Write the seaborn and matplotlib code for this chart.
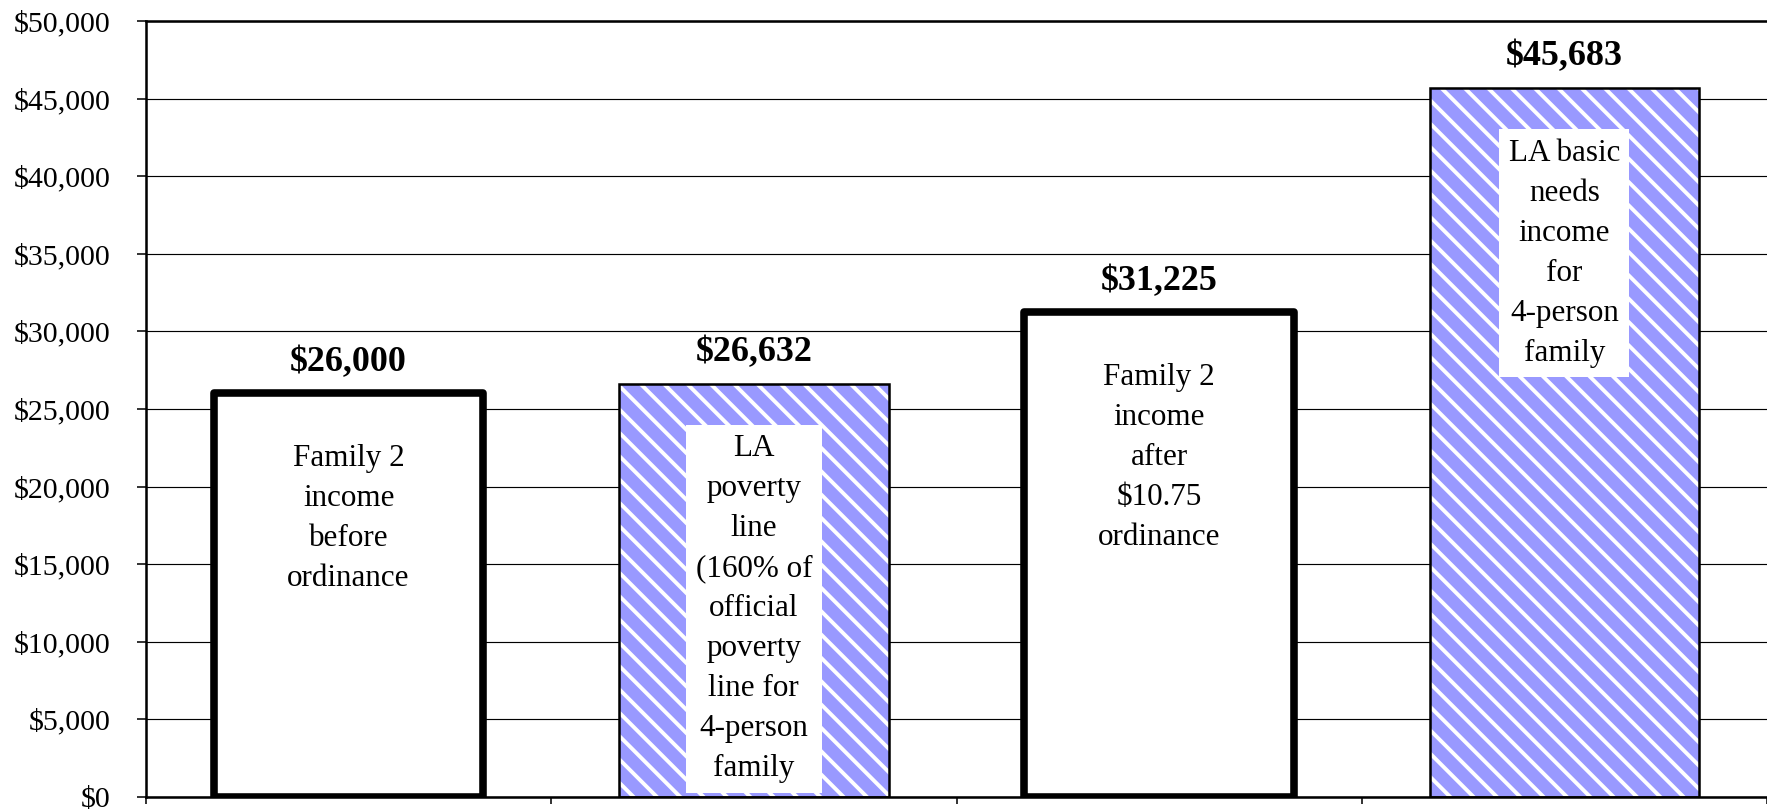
import numpy as np
import matplotlib.pyplot as plt
import matplotlib.patches as mpatches
from matplotlib.ticker import FuncFormatter
import seaborn as sns

# ── DATA ──
categories = ['Family 2 before', 'LA poverty line', 'Family 2 after', 'LA basic needs']
values = [26000, 26632, 31225, 45683]
value_labels = ['$26,000', '$26,632', '$31,225', '$45,683']
inner_labels = ['Family 2\nincome\nbefore\nordinance',
                'LA\npoverty\nline\n(160% of\nofficial\npoverty\nline for\n4-person\nfamily',
                'Family 2\nincome\nafter\n$10.75\nordinance',
                'LA basic\nneeds\nincome\nfor\n4-person\nfamily']
hatched = [False, True, False, True]
y_ticks = np.arange(0, 50001, 5000)

BLUE = '#9999FF'
DPI = 140

sns.set_style('white')
plt.rcParams['font.family'] = ['Liberation Serif', 'DejaVu Serif']
plt.rcParams['text.parse_math'] = False
plt.rcParams['hatch.linewidth'] = 2.0
plt.rcParams['text.color'] = 'black'
plt.rcParams['xtick.color'] = 'black'
plt.rcParams['ytick.color'] = 'black'

fig = plt.figure(figsize=(1767 / DPI, 812 / DPI), dpi=DPI)
ax = fig.add_axes([146 / 1767, 15 / 812, 1 - 146 / 1767, 776 / 812])

face = [BLUE if h else 'white' for h in hatched]
sns.barplot(x=categories, y=values, hue=categories, palette=face, legend=False,
            width=0.665, saturation=1, ax=ax)

ax.set_xlim(-0.5, 3.5)
ax.set_ylim(0, 50000)
ax.set_axisbelow(True)
ax.yaxis.grid(True, color='black', linewidth=0.6)
ax.xaxis.grid(False)

# bar styling, value labels and inner labels
for p, h, vl, il in zip(ax.patches, hatched, value_labels, inner_labels):
    cx = p.get_x() + p.get_width() / 2
    top = p.get_height()
    if h:
        p.set_hatch('\\\\')
        p.set_edgecolor('white')
        p.set_linewidth(0)
        ax.add_patch(mpatches.Rectangle(p.get_xy(), p.get_width(), p.get_height(),
                                        fill=False, edgecolor='black', linewidth=1.3,
                                        zorder=p.get_zorder() + 0.1))
        box = dict(boxstyle='square,pad=0.3', facecolor='white', edgecolor='none')
    else:
        p.set_edgecolor('black')
        p.set_linewidth(3.9)
        p.set_joinstyle('round')
        box = None
    ax.annotate(vl, xy=(cx, top), xytext=(0, 7.5), textcoords='offset points',
                ha='center', va='bottom', fontsize=18.5, fontweight='bold',
                color='black')
    ax.annotate(il, xy=(cx, top), xytext=(0, -26), textcoords='offset points',
                ha='center', va='top', fontsize=16, linespacing=1.5, bbox=box,
                color='black', zorder=5)

ax.set_yticks(y_ticks)
ax.yaxis.set_major_formatter(FuncFormatter(lambda v, pos: f'${v:,.0f}'))
ax.set_xticks([-0.5, 0.5, 1.5, 2.5, 3.5])
ax.set_xticklabels([])
ax.set_xlabel('')
ax.set_ylabel('')
ax.tick_params(axis='y', direction='out', length=4.6, width=0.8, pad=13.5,
               labelsize=15.4, left=True, colors='black')
ax.tick_params(axis='x', direction='out', length=3.6, width=0.8, bottom=True)

for side in ['left', 'top', 'bottom']:
    ax.spines[side].set_visible(True)
    ax.spines[side].set_color('black')
    ax.spines[side].set_linewidth(1.3)
ax.spines['right'].set_visible(False)

fig.savefig('out.png', dpi=DPI, facecolor='white')
